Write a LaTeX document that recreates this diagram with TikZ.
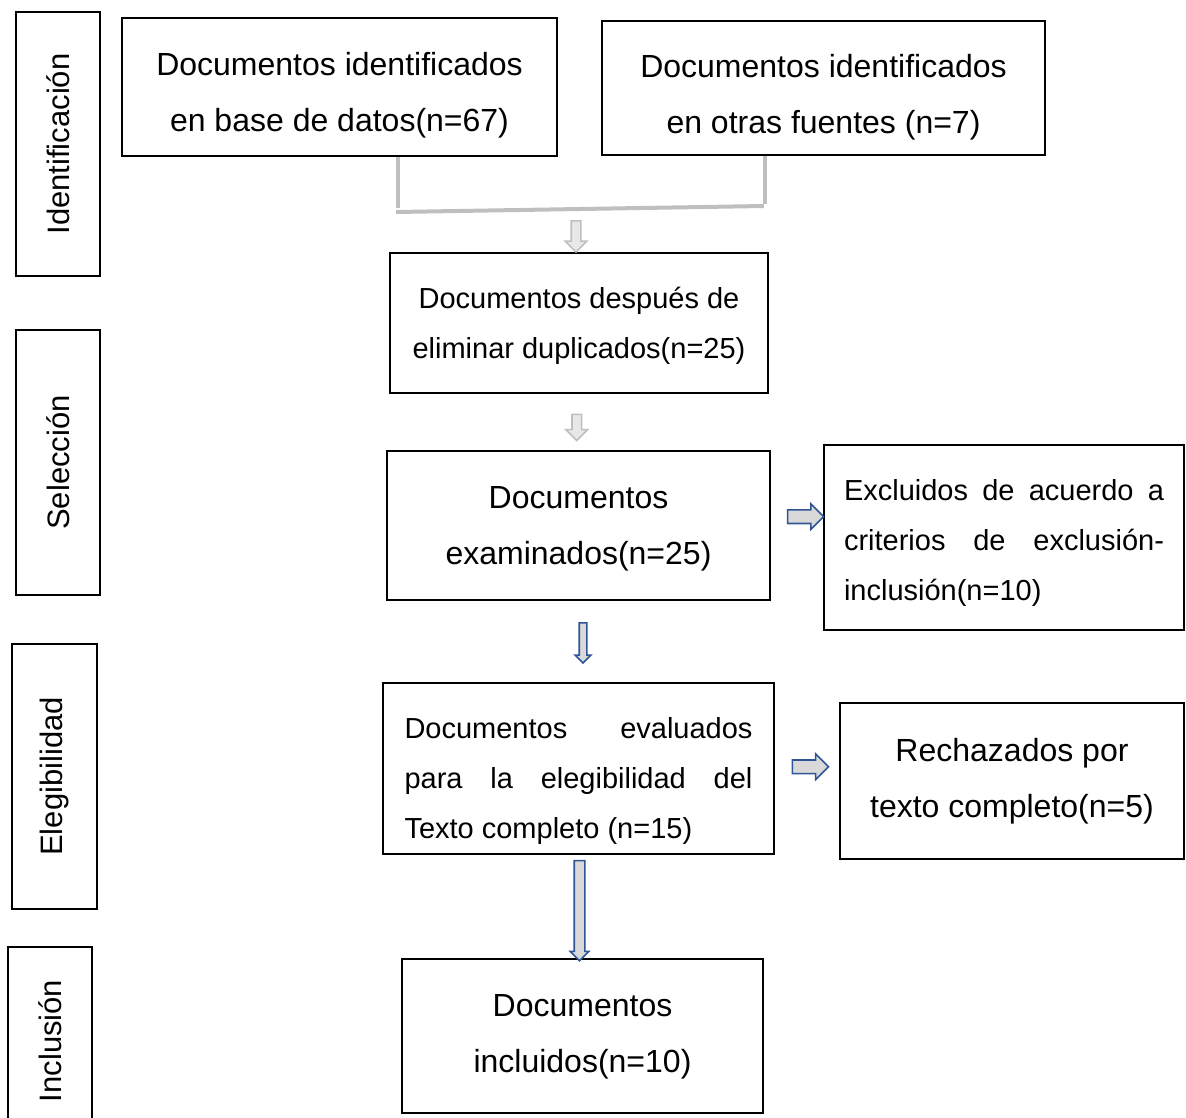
\documentclass[tikz,border=0pt]{standalone}
\usepackage{fontspec}
\setmainfont{Liberation Sans}
\usetikzlibrary{shapes.arrows,calc}
\definecolor{lineGray}{HTML}{BFBFBF}
\definecolor{fillGray}{HTML}{D9D9D9}
\definecolor{arrowBlue}{HTML}{2F5597}
\tikzset{
  box/.style={draw=black, line width=2pt, rectangle, inner sep=0pt},
  bigtext/.style={align=center, inner sep=0pt, font=\fontsize{32}{56}\selectfont},
  smalltext/.style={align=center, inner sep=0pt, font=\fontsize{29}{50}\selectfont},
  sidebox/.style={draw=black, line width=2pt, rectangle, inner sep=0pt, rotate=90,
    font=\fontsize{31}{40}\selectfont},
  blockarrow/.style={single arrow, single arrow head extend=#1, single arrow tip angle=90,
    single arrow head indent=0pt, minimum width=0pt, line width=1.6pt},
  grayarrow/.style={blockarrow=6pt, draw=lineGray, fill=fillGray!60, inner sep=4pt},
  bluearrow/.style={blockarrow=#1, draw=arrowBlue, fill=fillGray},
  connline/.style={draw=lineGray, line width=4pt}
}
\begin{document}
\begin{tikzpicture}[x=1pt, y=-1pt]
\useasboundingbox (0,0) rectangle (1186,1117);
% side labels
\node[sidebox, minimum width=264pt, minimum height=84pt] (lab1) at (58,144) {Identificación};
\node[sidebox, minimum width=265pt, minimum height=84pt] (lab2) at (58,462.5) {Selección};
\node[sidebox, minimum width=265pt, minimum height=85pt] (lab3) at (54.5,776.5) {Elegibilidad};
\node[sidebox, minimum width=188pt, minimum height=84pt] (lab4) at (50,1041) {Inclusión};
% boxes
\node[box, minimum width=435pt, minimum height=138pt] (A) at (339.5,87) {};
\node[box, minimum width=443pt, minimum height=134pt] (B) at (823.5,88) {};
\node[box, minimum width=378pt, minimum height=140pt] (C) at (579,323) {};
\node[box, minimum width=383pt, minimum height=149pt] (D) at (578.5,525.5) {};
\node[box, minimum width=360pt, minimum height=185pt] (E) at (1004,537.5) {};
\node[box, minimum width=391pt, minimum height=171pt] (F) at (578.5,768.5) {};
\node[box, minimum width=344pt, minimum height=156pt] (G) at (1012,781) {};
\node[box, minimum width=361pt, minimum height=154pt] (H) at (582.5,1036) {};
% texts
\node[bigtext] (tA) at ($(A.center)+(0,8)$) {Documentos identificados\\en base de datos(n=67)};
\node[bigtext] (tB) at ($(B.center)+(0,9.5)$) {Documentos identificados\\en otras fuentes (n=7)};
\node[smalltext] (tC) at ($(C.center)+(0,3)$) {Documentos después de\\eliminar duplicados(n=25)};
\node[bigtext] (tD) at ($(D.center)+(0,3)$) {Documentos\\examinados(n=25)};
\node[smalltext, text width=320pt, align=justify] (tE) at ($(E.center)+(0,5.5)$)
  {Excluidos de acuerdo a\linebreak criterios de exclusión-\linebreak inclusión(n=10)};
\node[smalltext, text width=348pt, align=justify] (tF) at ($(F.center)+(0,12)$)
  {Documentos evaluados\linebreak para la elegibilidad del\linebreak Texto completo (n=15)};
\node[bigtext] (tG) at (G.center) {Rechazados por\\texto completo(n=5)};
\node[bigtext] (tH) at ($(H.center)+(0,1)$) {Documentos\\incluidos(n=10)};
% gray merge connector
\coordinate (ja) at ($(A.south west)!0.634!(A.south east)$);
\coordinate (jb) at ($(B.south west)!0.368!(B.south east)$);
\draw[connline] (ja) -- ++(0,51);
\draw[connline] (jb) -- ++(0,48);
\draw[connline] ($(ja)+(-2,55)$) coordinate (jl) -- ($(jb)+(-1,50)$) coordinate (jr);
% block arrows
\node[grayarrow, rotate=-90, minimum height=31pt] (g1) at ($(C.north)+(-3,-18)$) {};
\node[grayarrow, rotate=-90, minimum height=26pt] (g2) at ($(C.south)!0.5!(D.north)+(-2,3)$) {};
\node[bluearrow=4pt, inner sep=3pt, rotate=-90, minimum height=40pt] (b1) at ($(D.south)+(4.5,40)$) {};
\node[bluearrow=6pt, inner sep=6pt, minimum height=36pt] (b2) at ($(D.east)!0.6!(E.west)+(0,-16)$) {};
\node[bluearrow=6pt, inner sep=6pt, minimum height=36pt] (b3) at ($(F.east)!0.5!(G.west)+(0,-8)$) {};
\node[bluearrow=4pt, inner sep=4.5pt, rotate=-90, minimum height=100pt] (b4) at ($(F.south)!0.5!(H.north)+(-1,1.5)$) {};
\end{tikzpicture}
\end{document}
